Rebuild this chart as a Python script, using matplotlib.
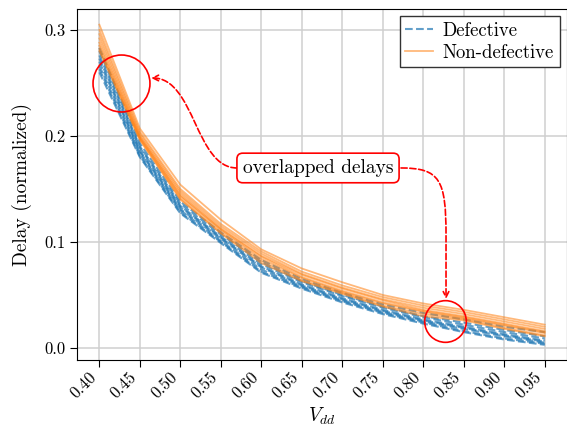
import matplotlib

matplotlib.use("Agg")

import matplotlib.pyplot as plt
from matplotlib.path import Path
from matplotlib.patches import FancyArrowPatch

plt.rcParams["font.family"] = ["cmr10", "DejaVu Serif"]
plt.rcParams["mathtext.fontset"] = "cm"
plt.rcParams["axes.unicode_minus"] = False
plt.rcParams["axes.formatter.use_mathtext"] = True

# supply voltage sweep
vdd = [0.40, 0.45, 0.50, 0.55, 0.60, 0.65, 0.70, 0.75, 0.80, 0.85, 0.90, 0.95]

# normalized delay of defective circuits (dashed, blue)
defective = [
    [0.283, 0.193, 0.138, 0.109, 0.083, 0.065, 0.052, 0.041, 0.033, 0.027, 0.020, 0.015],
    [0.280, 0.190, 0.136, 0.107, 0.081, 0.063, 0.050, 0.039, 0.030, 0.024, 0.017, 0.011],
    [0.276, 0.189, 0.134, 0.105, 0.079, 0.062, 0.049, 0.038, 0.029, 0.022, 0.015, 0.009],
    [0.273, 0.186, 0.133, 0.104, 0.077, 0.060, 0.047, 0.036, 0.027, 0.020, 0.013, 0.007],
    [0.270, 0.185, 0.131, 0.103, 0.076, 0.059, 0.046, 0.035, 0.026, 0.019, 0.012, 0.006],
    [0.266, 0.183, 0.130, 0.101, 0.074, 0.058, 0.045, 0.034, 0.025, 0.018, 0.011, 0.005],
    [0.263, 0.181, 0.128, 0.100, 0.072, 0.057, 0.044, 0.033, 0.024, 0.016, 0.009, 0.004],
    [0.260, 0.180, 0.127, 0.099, 0.071, 0.056, 0.043, 0.032, 0.023, 0.015, 0.008, 0.003],
]

# normalized delay of non-defective circuits (solid, orange)
non_defective = [
    [0.305, 0.207, 0.154, 0.121, 0.093, 0.075, 0.062, 0.050, 0.042, 0.036, 0.029, 0.022],
    [0.300, 0.204, 0.150, 0.117, 0.091, 0.072, 0.059, 0.048, 0.040, 0.034, 0.027, 0.020],
    [0.296, 0.202, 0.148, 0.115, 0.089, 0.070, 0.057, 0.046, 0.038, 0.032, 0.025, 0.018],
    [0.292, 0.200, 0.146, 0.113, 0.087, 0.069, 0.056, 0.045, 0.036, 0.030, 0.023, 0.016],
    [0.288, 0.199, 0.144, 0.112, 0.086, 0.067, 0.054, 0.043, 0.035, 0.029, 0.022, 0.015],
    [0.285, 0.198, 0.143, 0.111, 0.084, 0.066, 0.053, 0.042, 0.034, 0.028, 0.021, 0.014],
    [0.282, 0.197, 0.141, 0.109, 0.082, 0.064, 0.052, 0.040, 0.032, 0.027, 0.019, 0.012],
    [0.280, 0.196, 0.140, 0.108, 0.080, 0.063, 0.051, 0.039, 0.030, 0.026, 0.018, 0.011],
]

xticks = vdd
yticks = [0.0, 0.1, 0.2, 0.3]

fig = plt.figure(figsize=(5.67, 4.26), dpi=100)
ax = fig.add_axes([0.136, 0.155, 0.864, 0.824])

for i, d in enumerate(defective):
    ax.plot(vdd, d, color="#1f77b4", ls="--", lw=1.5, alpha=0.7,
            label="Defective" if i == 0 else None, zorder=2)
for i, d in enumerate(non_defective):
    ax.plot(vdd, d, color="#ff7f0e", ls="-", lw=1.3, alpha=0.55,
            label="Non-defective" if i == 0 else None, zorder=3)

ax.set_xlim(0.3725, 0.9775)
ax.set_ylim(-0.0113, 0.3198)
ax.set_xticks(xticks)
ax.set_xticklabels([f"{v:.2f}" for v in xticks], rotation=45, ha="right")
ax.set_yticks(yticks)
ax.set_yticklabels([f"{v:.1f}" for v in yticks])
ax.tick_params(labelsize=12, length=5, direction="out")
ax.tick_params(axis="x", pad=2)
ax.grid(color="#cfcfcf", lw=1.1)
ax.set_axisbelow(True)
ax.set_xlabel("$V_{dd}$", fontsize=14, labelpad=3)
ax.set_ylabel("Delay (normalized)", fontsize=14, labelpad=9)

leg = ax.legend(loc="upper right", fontsize=13.5, handlelength=1.5, fancybox=False,
                framealpha=1, edgecolor="0.2", borderaxespad=0.4, borderpad=0.3,
                labelspacing=0.2, handletextpad=0.5)
leg.get_frame().set_linewidth(1.0)

# highlight circles
ax.plot([0.4272], [0.2500], marker="o", ms=41, mfc="none", mec="red", mew=1.2, zorder=6)
ax.plot([0.8268], [0.0255], marker="o", ms=30, mfc="none", mec="red", mew=1.2, zorder=6)

ax.text(0.6700, 0.1698, "overlapped delays", fontsize=14, ha="center", va="center",
        bbox=dict(boxstyle="round,pad=0.3", fc="white", ec="red", lw=1.2), zorder=7)

p1 = Path([(0.5700, 0.1698), (0.5182, 0.1698), (0.5182, 0.2547), (0.4639, 0.2547)],
          [Path.MOVETO, Path.CURVE4, Path.CURVE4, Path.CURVE4])
a1 = FancyArrowPatch(path=p1, arrowstyle="->", mutation_scale=10, color="red",
                     lw=1.2, ls="--", transform=ax.transData, zorder=6)
ax.add_patch(a1)

p2 = Path([(0.7725, 0.1698), (0.8206, 0.1698), (0.8281, 0.1585), (0.8281, 0.1066),
           (0.8281, 0.0462)],
          [Path.MOVETO, Path.CURVE4, Path.CURVE4, Path.CURVE4, Path.LINETO])
a2 = FancyArrowPatch(path=p2, arrowstyle="->", mutation_scale=10, color="red",
                     lw=1.2, ls="--", transform=ax.transData, zorder=6)
ax.add_patch(a2)

fig.savefig("out.png", dpi=100)
